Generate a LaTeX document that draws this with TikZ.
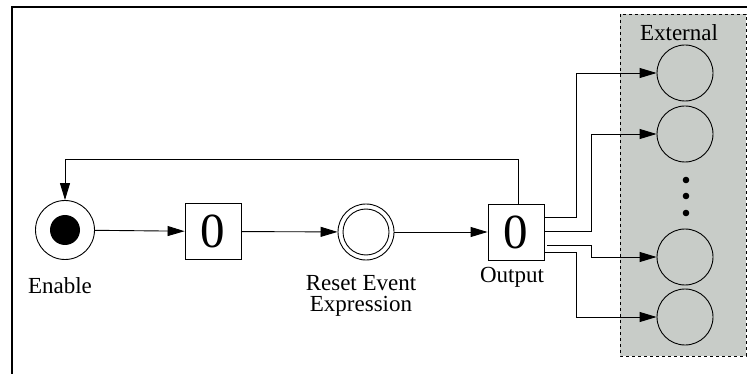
\documentclass[tikz,border=0pt]{standalone}
\usepackage{fontspec}
\setmainfont{Liberation Serif}
\usetikzlibrary{arrows.meta}
\definecolor{extgray}{RGB}{200,204,200}
\begin{document}
\begin{tikzpicture}[x=1pt,y=-1pt,
  arr/.style={-{Triangle[length=17pt,width=10pt]},line width=0.9pt},
  place/.style={circle,draw,line width=0.9pt,minimum size=56pt,inner sep=0pt},
  trans/.style={rectangle,draw,line width=0.9pt,minimum width=56pt,minimum height=56pt,inner sep=0pt,font=\fontsize{49}{49}\selectfont},
  lbl/.style={font=\fontsize{23}{21}\selectfont,align=center,inner sep=0pt}]
\useasboundingbox (0,0) rectangle (747,374);
% frame
\draw[line width=1.3pt] (12,374) -- (12,7) -- (747,7);
% external region
\draw[fill=extgray,dashed,line width=0.8pt] (620,14) rectangle (746,356);
\node[lbl] (extlbl) at (679,33) {External};
% nodes
\node[place,minimum size=59pt,fill=white] (enable) at (65,230) {};
\fill (enable.center) circle (15);
\node[lbl] (enlbl) at (60,286) {Enable};
\node[trans,fill=white] (box1) at (213,231.5) {0};
\node[place,fill=white] (reset) at (366,232) {};
\draw[line width=0.9pt] (reset.center) circle (23);
\node[lbl] (reslbl) at (361,296) {Reset Event\\Expression};
\node[trans,fill=white] (out) at (516,232) {0};
\node[lbl] (outlbl) at (512,277) {Output};
\node[place] (e1) at (685,73) {};
\node[place] (e2) at (685,134) {};
\node[place] (e3) at (685,257) {};
\node[place] (e4) at (685,317) {};
\fill (686,180) circle (3.3) (686,196) circle (3.3) (686,213) circle (3.3);
% connectors
\draw[arr] (enable) -- (box1);
\draw[arr] (box1) -- (reset);
\draw[arr] (reset) -- (out);
\coordinate (fb) at (65,159);
\draw[arr] ([xshift=2pt]out.north) |- (fb) -- (enable.north);
\draw[arr] ([yshift=15pt]out.east) -- ++(32,0) |- (e1.west);
\draw[arr] ([yshift=1pt]out.east) -- ++(47,0) |- (e2.west);
\draw[arr] ([yshift=-13pt,xshift=3pt]out.east) -- ++(44,0) |- (e3.west);
\draw[arr] ([yshift=-20pt]out.east) -- ++(32,0) |- (e4.west);
\end{tikzpicture}
\end{document}
